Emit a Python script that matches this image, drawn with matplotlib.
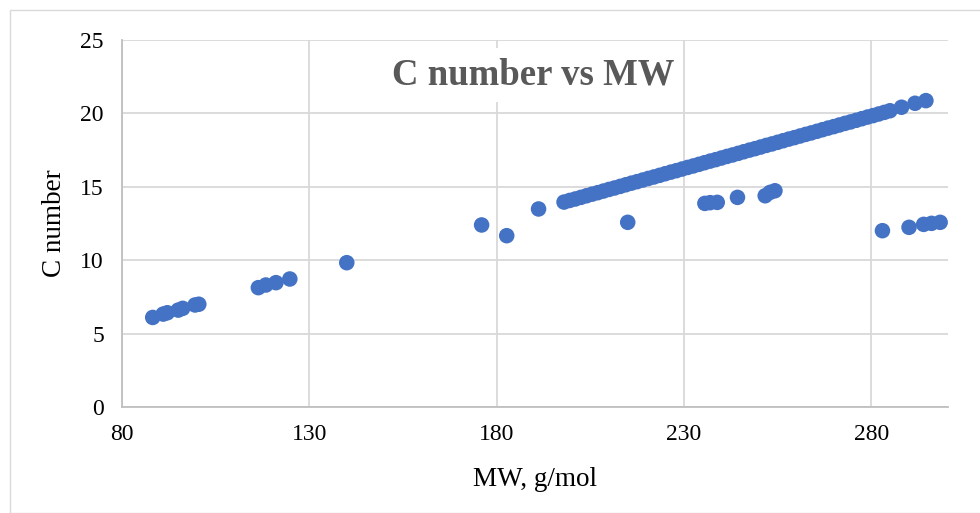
import matplotlib
matplotlib.use("Agg")
import matplotlib.pyplot as plt
from matplotlib.patches import Rectangle

# Light fractions
mw_light = [88.2, 91.0, 92.1, 95.0, 96.2, 99.5, 100.5,
            116.4, 118.4, 121.1, 124.8, 140.0,
            176.0, 182.7, 191.2]
c_light = [6.10, 6.33, 6.42, 6.60, 6.72, 6.95, 7.00,
           8.13, 8.31, 8.47, 8.72, 9.83,
           12.40, 11.67, 13.49]

# Main homologous series
mw_main = [198.0, 199.5, 201.0, 202.5, 204.0, 205.5, 207.0, 208.5, 210.0, 211.5,
           213.0, 214.5, 216.0, 217.5, 219.0, 220.5, 222.0, 223.5, 225.0, 226.5,
           228.0, 229.5, 231.0, 232.5, 234.0, 235.5, 237.0, 238.5, 240.0, 241.5,
           243.0, 244.5, 246.0, 247.5, 249.0, 250.5, 252.0, 253.5, 255.0, 256.5,
           258.0, 259.5, 261.0, 262.5, 264.0, 265.5, 267.0, 268.5, 270.0, 271.5,
           273.0, 274.5, 276.0, 277.5, 279.0, 280.5, 282.0, 283.5, 285.0,
           288.1, 291.7, 294.6]
c_main = [13.96, 14.07, 14.17, 14.28, 14.39, 14.50, 14.60, 14.71, 14.82, 14.92,
          15.03, 15.14, 15.25, 15.35, 15.46, 15.57, 15.67, 15.78, 15.89, 16.00,
          16.10, 16.21, 16.32, 16.42, 16.53, 16.64, 16.75, 16.85, 16.96, 17.07,
          17.17, 17.28, 17.39, 17.50, 17.60, 17.71, 17.82, 17.92, 18.03, 18.14,
          18.25, 18.35, 18.46, 18.57, 18.67, 18.78, 18.89, 19.00, 19.10, 19.21,
          19.32, 19.42, 19.53, 19.64, 19.75, 19.85, 19.96, 20.07, 20.18,
          20.42, 20.69, 20.87]

# Off-trend components
mw_off = [215.0, 235.6, 237.0, 238.9, 244.3, 251.7, 253.0, 254.3,
          283.0, 290.1, 294.0, 296.1, 298.4]
c_off = [12.58, 13.87, 13.92, 13.94, 14.28, 14.39, 14.62, 14.73,
         12.01, 12.24, 12.44, 12.51, 12.58]

x_ticks = [80, 130, 180, 230, 280]
y_ticks = [0, 5, 10, 15, 20, 25]

plt.rcParams['font.family'] = ['Liberation Serif', 'DejaVu Serif']

W, H = 980, 513
fig = plt.figure(figsize=(W / 100, H / 100), dpi=100)
fig.patch.set_facecolor('white')

# chart-area border
fig.add_artist(Rectangle((10 / W, 0.0), 1.0, 1 - 10 / H, transform=fig.transFigure,
                         fill=False, edgecolor='#D9D9D9', linewidth=1.0))

left, right, top, bottom = 122, 948, 40, 407
ax = fig.add_axes([left / W, 1 - bottom / H, (right - left) / W, (bottom - top) / H])

blue = '#4472C4'
grid_c = '#D9D9D9'
for xs, ys in ((mw_light, c_light), (mw_main, c_main), (mw_off, c_off)):
    ax.scatter(xs, ys, s=125, color=blue, edgecolors='none', zorder=3, clip_on=False)

ax.set_xlim(80, 300.5)
ax.set_ylim(0, 25)
ax.set_xticks(x_ticks)
ax.set_yticks(y_ticks)
ax.grid(True, color=grid_c, linewidth=1.3, zorder=0)
ax.set_axisbelow(True)
for name, sp in ax.spines.items():
    if name in ('left', 'bottom'):
        sp.set_color('#BFBFBF')
        sp.set_linewidth(1.3)
    else:
        sp.set_visible(False)
ax.tick_params(length=0, labelsize=17, colors='black')
ax.tick_params(axis='x', pad=12)
ax.tick_params(axis='y', pad=13)

ax.set_xlabel('MW, g/mol', fontsize=19.5, va='center')
ax.set_ylabel('C number', fontsize=19.5, va='center')
ax.xaxis.set_label_coords(0.5, -0.197)
ax.yaxis.set_label_coords(-0.082, 0.5)

ax.text(0.4976, 0.905, 'C number vs MW', transform=ax.transAxes,
        ha='center', va='center', fontsize=26.5, fontweight='bold', color='#595959',
        zorder=5,
        bbox=dict(boxstyle='square,pad=0.25', facecolor='white', edgecolor='none'))

fig.savefig('out.png', dpi=100, facecolor='white')
